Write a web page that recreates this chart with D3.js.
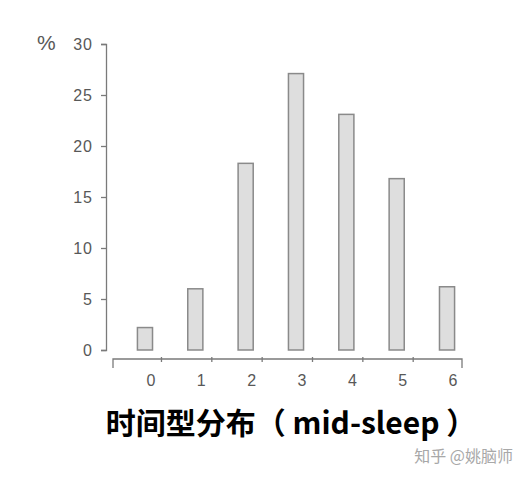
<!DOCTYPE html>
<html>
<head>
<meta charset="utf-8">
<script src="https://cdn.jsdelivr.net/npm/d3@7"></script>
<style>
  body { margin: 0; background: #fff; }
  svg { display: block; }
  .tick text { font-family: "Liberation Sans", Arial, sans-serif; }
</style>
</head>
<body>
<div id="graph"></div>
<script>
// DATA
const categories = [0, 1, 2, 3, 4, 5, 6]
const percents = [2.2, 6.0, 18.3, 27.1, 23.1, 16.8, 6.2]
const yTicks = [0, 5, 10, 15, 20, 25, 30]
const titleText = "时间型分布（ mid-sleep ）"
const watermark = "知乎 @姚脑师"

// Colours
const barFill = "#dedede"
const barStroke = "#8a8a8a"
const axisColor = "#7a7a7a"
const textColor = "#585858"

const width = 526, height = 479

const svg = d3.select("#graph").append("svg")
  .attr("width", width).attr("height", height)

// Scales
const xScale = d3.scaleBand()
  .domain(categories)
  .range([119.8, 472.2])
  .paddingInner(0.7)
  .paddingOuter(0.35)

const yScale = d3.scaleLinear()
  .domain([0, 30])
  .range([350, 44])

// Y axis
const yAxis = svg.append("g")
  .attr("transform", "translate(106, 0)")
  .call(d3.axisLeft(yScale).tickValues(yTicks).tickSize(5).tickSizeOuter(5).tickPadding(8))
yAxis.select(".domain").attr("stroke", axisColor).attr("stroke-width", 1.3)
yAxis.selectAll(".tick line").attr("stroke", axisColor).attr("stroke-width", 1.3)
yAxis.selectAll(".tick text")
  .attr("fill", textColor)
  .style("font-size", "16px")
  .style("letter-spacing", "1px")

// % label next to top tick
svg.append("text")
  .attr("x", 37).attr("y", yScale(30) + 6)
  .attr("fill", textColor)
  .style("font-family", "Liberation Sans, Arial, sans-serif")
  .style("font-size", "21px")
  .text("%")

// X axis (the scan has the ticks shifted right of the bars)
const xAxis = svg.append("g")
  .attr("transform", "translate(0, 359)")
  .call(d3.axisBottom(xScale).tickSize(5).tickSizeOuter(0).tickPadding(11))
xAxis.select(".domain")
  .attr("d", "M113,9V0H462V9")
  .attr("stroke", axisColor).attr("stroke-width", 1.3).attr("fill", "none")
xAxis.selectAll(".tick line")
  .attr("transform", "translate(16.5, -2)")
  .attr("stroke", axisColor).attr("stroke-width", 1.3)
  .style("display", (d, i) => i == categories.length - 1 ? "none" : null)
xAxis.selectAll(".tick text")
  .attr("dx", 6)
  .attr("fill", textColor)
  .style("font-size", "16px")

// Bars
svg.selectAll("rect.bar")
  .data(categories)
  .enter()
  .append("rect")
  .attr("class", "bar")
  .attr("x", d => xScale(d))
  .attr("width", xScale.bandwidth())
  .attr("y", (d, i) => yScale(percents[i]))
  .attr("height", (d, i) => yScale(0) - yScale(percents[i]))
  .attr("fill", barFill)
  .attr("stroke", barStroke)
  .attr("stroke-width", 1.5)

// Title
svg.append("text")
  .attr("x", 291).attr("y", 434)
  .attr("text-anchor", "middle")
  .attr("fill", "#000")
  .style("font-family", "Noto Sans CJK SC, sans-serif")
  .style("font-weight", "bold")
  .style("font-size", "30px")
  .text(titleText)

// Watermark
svg.append("text")
  .attr("x", 513).attr("y", 462)
  .attr("text-anchor", "end")
  .attr("fill", "#a8a8a8")
  .style("font-family", "Noto Sans CJK SC, sans-serif")
  .style("font-size", "16px")
  .text(watermark)
</script>
</body>
</html>
